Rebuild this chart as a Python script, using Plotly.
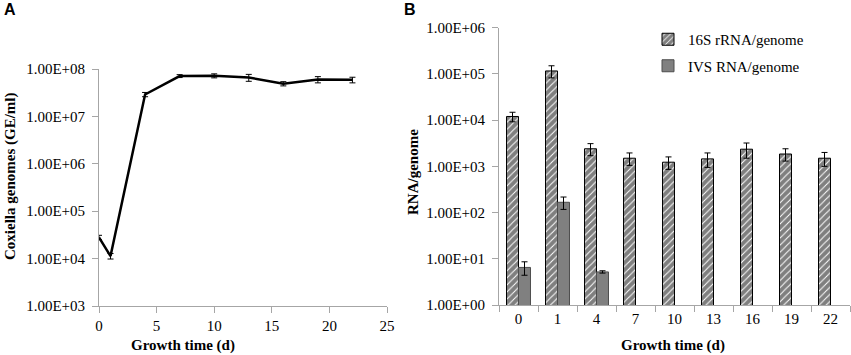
import plotly.graph_objects as go

# ---- data ----
days = [0, 1, 4, 7, 10, 13, 16, 19, 22]
genomes = [2.8e4, 1.13e4, 2.9e7, 7.1e7, 7.2e7, 6.6e7, 4.9e7, 6.0e7, 5.9e7]
genomes_err = [3e3, 1.5e3, 3e6, 5e6, 7e6, 1.1e7, 5e6, 9e6, 8e6]

categories = ["0", "1", "4", "7", "10", "13", "16", "19", "22"]
rrna = [1.2e4, 1.16e5, 2.4e3, 1.5e3, 1.23e3, 1.45e3, 2.35e3, 1.85e3, 1.5e3]
rrna_err = [2.8e3, 3.4e4, 7e2, 4.5e2, 3.7e2, 5e2, 8.5e2, 5.5e2, 5e2]
ivs = [6.5, 167, 5.2, None, None, None, None, None, None]
ivs_err = [2.1, 50, 0.3, 0, 0, 0, 0, 0, 0]

a_tickvals = [1e3, 1e4, 1e5, 1e6, 1e7, 1e8]
a_ticktext = ["1.00E+03", "1.00E+04", "1.00E+05", "1.00E+06", "1.00E+07", "1.00E+08"]
b_tickvals = [1e0, 1e1, 1e2, 1e3, 1e4, 1e5, 1e6]
b_ticktext = ["1.00E+00", "1.00E+01", "1.00E+02", "1.00E+03", "1.00E+04", "1.00E+05", "1.00E+06"]

FW, FH = 851, 355


def px(x):
    return x / FW


def py(y):
    return 1 - y / FH


SERIF = "Liberation Serif"
SANS = "Liberation Sans"
AXC = "#a6a6a6"

fig = go.Figure()

fig.add_trace(go.Scatter(
    x=days, y=genomes, mode="lines", xaxis="x", yaxis="y",
    line=dict(color="black", width=2.5), showlegend=False,
    error_y=dict(type="data", array=genomes_err, color="black", thickness=1, width=3),
))

fig.add_trace(go.Bar(
    x=categories, y=rrna, name="16S rRNA/genome", xaxis="x2", yaxis="y2",
    marker=dict(color="white", line=dict(color="black", width=1),
                pattern=dict(shape="/", fgcolor="black", bgcolor="white", size=5, solidity=0.8)),
    error_y=dict(type="data", array=rrna_err, color="black", thickness=1, width=3),
    legend="legend",
))
fig.add_trace(go.Bar(
    x=categories, y=ivs, name="IVS RNA/genome", xaxis="x2", yaxis="y2",
    marker=dict(color="#808080", line=dict(color="#4d4d4d", width=1)),
    error_y=dict(type="data", array=ivs_err, color="black", thickness=1, width=3),
    legend="legend2",
))

axis_common = dict(showgrid=False, zeroline=False, showline=True, linecolor=AXC, linewidth=1,
                   ticks="outside", tickcolor=AXC, ticklen=6, automargin=False,
                   tickfont=dict(family=SERIF, size=15, color="black"))

legend_common = dict(xref="container", yref="container", xanchor="left", yanchor="middle",
                     font=dict(family=SERIF, size=15, color="black"), bgcolor="rgba(0,0,0,0)",
                     itemwidth=30)

fig.update_layout(
    width=FW, height=FH, margin=dict(l=0, r=0, t=0, b=0, autoexpand=False),
    paper_bgcolor="white", plot_bgcolor="white",
    barmode="group", bargap=0.385, bargroupgap=0,
    font=dict(family=SERIF, size=15, color="black"),
    xaxis=dict(domain=[px(99), px(387)], range=[0, 25], dtick=5, anchor="y", **axis_common),
    yaxis=dict(domain=[py(306), py(69)], type="log", range=[3, 8], anchor="x",
               tickvals=a_tickvals, ticktext=a_ticktext, ticklabelstandoff=4, **axis_common),
    xaxis2=dict(domain=[px(499), px(850)], type="category", range=[-0.5, 8.5], anchor="y2",
                tickson="boundaries", **axis_common),
    yaxis2=dict(domain=[py(305), py(27.7)], type="log", range=[0, 6], anchor="x2",
                tickvals=b_tickvals, ticktext=b_ticktext, ticklabelstandoff=4, **axis_common),
    legend=dict(x=px(648), y=py(39.5), **legend_common),
    legend2=dict(x=px(648), y=py(66), **legend_common),
    annotations=[
        dict(text="<b>A</b>", x=px(2), y=py(10), xref="paper", yref="paper",
             xanchor="left", yanchor="middle", showarrow=False,
             font=dict(family=SANS, size=16, color="black")),
        dict(text="<b>B</b>", x=px(402), y=py(10), xref="paper", yref="paper",
             xanchor="left", yanchor="middle", showarrow=False,
             font=dict(family=SANS, size=16, color="black")),
        dict(text="<b>Coxiella genomes (GE/ml)</b>", x=px(10), y=py(177), xref="paper", yref="paper",
             xanchor="center", yanchor="middle", textangle=-90, showarrow=False,
             font=dict(family=SERIF, size=15, color="black")),
        dict(text="<b>RNA/genome</b>", x=px(413), y=py(172), xref="paper", yref="paper",
             xanchor="center", yanchor="middle", textangle=-90, showarrow=False,
             font=dict(family=SERIF, size=15, color="black")),
        dict(text="<b>Growth time (d)</b>", x=px(183), y=py(345), xref="paper", yref="paper",
             xanchor="center", yanchor="middle", showarrow=False,
             font=dict(family=SERIF, size=15, color="black")),
        dict(text="<b>Growth time (d)</b>", x=px(673), y=py(345), xref="paper", yref="paper",
             xanchor="center", yanchor="middle", showarrow=False,
             font=dict(family=SERIF, size=15, color="black")),
    ],
)

# remove the default 8px page margin so the figure fills the window exactly
fig.write_html("out.html", config={"displayModeBar": False},
               post_script="document.body.style.margin='0';")
